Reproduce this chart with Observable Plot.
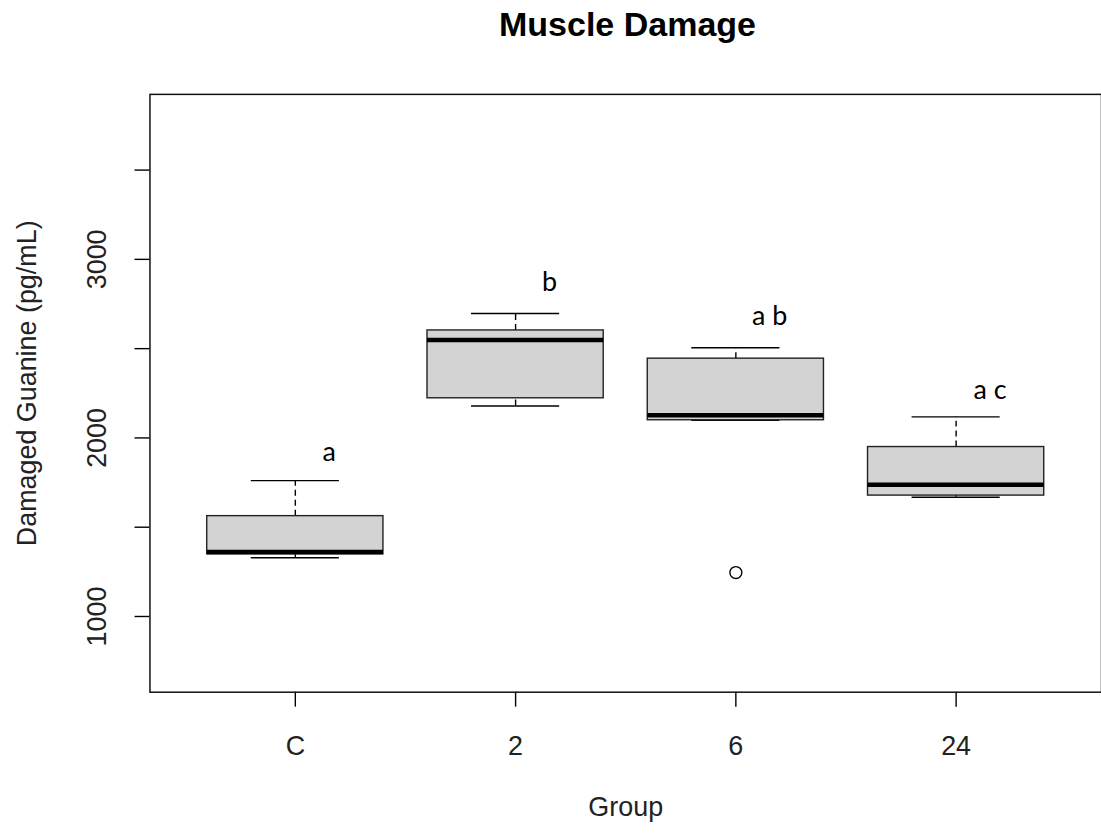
<!DOCTYPE html>
<html>
<head>
<meta charset="utf-8">
<script src="https://cdn.jsdelivr.net/npm/d3@7"></script>
<script src="https://cdn.jsdelivr.net/npm/@observablehq/plot@0.6"></script>
<style>
  html, body { margin: 0; padding: 0; background: #fff; overflow: hidden; }
  #wrap { position: relative; width: 1101px; height: 839px; }
  #title { position: absolute; left: 150px; width: 955px; top: 7px; text-align: center;
           font: bold 34px "Liberation Sans", Arial, sans-serif; line-height: 34px; color: #000; }
  #chart { position: absolute; left: 0; top: 60px; }
</style>
</head>
<body>
<div id="wrap">
  <div id="title">Muscle Damage</div>
  <div id="chart"></div>
</div>
<script>
// ---- data ----
const groups = ["C", "2", "6", "24"];
const whiskerLow  = [1329, 2179, 2099, 1668];
const q1          = [1348, 2222, 2099, 1677];
const median      = [1361, 2548, 2127, 1738];
const q3          = [1562, 2602, 2444, 1949];
const whiskerHigh = [1761, 2697, 2505, 2118];
const outlierGroups = ["6"];
const outlierValues = [1246];
const letterLabels = ["a", "b", "a b", "a c"];
const letterValues = [1921, 2870, 2680, 2267];
const yTicks = [1000, 1500, 2000, 2500, 3000, 3500];
const yTickLabels = [1000, 2000, 3000];

// ---- tables built from the arrays ----
const boxes = groups.map((g, i) => ({
  group: g, pos: i + 1,
  lo: whiskerLow[i], q1: q1[i], med: median[i], q3: q3[i], hi: whiskerHigh[i]
}));
const outliers = outlierGroups.map((g, i) => ({ pos: groups.indexOf(g) + 1, value: outlierValues[i] }));
const letters = groups.map((g, i) => ({ pos: i + 1, label: letterLabels[i], value: letterValues[i] }));

const boxHalf = 0.4, stapleHalf = 0.2;
const FONT = "'Liberation Sans', Arial, sans-serif";

const chart = Plot.plot({
  width: 1105,
  height: 779,
  marginLeft: 150,
  marginRight: 0,
  marginTop: 34,
  marginBottom: 145,
  style: { fontFamily: FONT, fontSize: "27px", color: "#000", background: "#fff", overflow: "visible" },
  x: { type: "linear", domain: [0.34, 4.66], axis: null },
  y: { domain: [576, 3924], axis: null },
  marks: [
    // whiskers (dashed)
    Plot.ruleX(boxes, { x: "pos", y1: "q3", y2: "hi", stroke: "#000", strokeWidth: 1.4, strokeDasharray: "6,4" }),
    Plot.ruleX(boxes, { x: "pos", y1: "lo", y2: "q1", stroke: "#000", strokeWidth: 1.4, strokeDasharray: "6,4" }),
    // staples
    Plot.ruleY(boxes, { y: "hi", x1: d => d.pos - stapleHalf, x2: d => d.pos + stapleHalf, stroke: "#000", strokeWidth: 1.4 }),
    Plot.ruleY(boxes, { y: "lo", x1: d => d.pos - stapleHalf, x2: d => d.pos + stapleHalf, stroke: "#000", strokeWidth: 1.4 }),
    // boxes
    Plot.rect(boxes, { x1: d => d.pos - boxHalf, x2: d => d.pos + boxHalf, y1: "q1", y2: "q3",
      fill: "#d3d3d3", stroke: "#222", strokeWidth: 1.4 }),
    // medians
    Plot.ruleY(boxes, { y: "med", x1: d => d.pos - boxHalf, x2: d => d.pos + boxHalf, stroke: "#000", strokeWidth: 4.5 }),
    // outliers
    Plot.dot(outliers, { x: "pos", y: "value", r: 6, stroke: "#000", fill: "none", strokeWidth: 1.4 }),
    // significance letters
    Plot.text(letters, { x: "pos", y: "value", text: "label", dx: 34, fontSize: 27,
      fontFamily: "Lato, 'Open Sans', sans-serif", fill: "#000" }),
    // y axis ticks + labels
    Plot.axisY({ ticks: yTicks, tickSize: 15, tickFormat: () => "", label: null, strokeWidth: 1.4 }),
    Plot.text(yTickLabels, { y: d => d, text: d => String(d), frameAnchor: "left", textAnchor: "middle",
      dx: -53, rotate: -90, fontSize: 27, fill: "#222" }),
    // x axis ticks + labels
    Plot.axisX({ ticks: [1, 2, 3, 4], tickFormat: i => groups[i - 1], tickSize: 15, tickPadding: 29,
      fontSize: 27, label: null, strokeWidth: 1.4, fill: "#222" }),
    // axis titles
    Plot.text(["Group"], { frameAnchor: "bottom", dy: 124, fontSize: 27, fill: "#222" }),
    Plot.text(["Damaged Guanine (pg/mL)"], { frameAnchor: "left", textAnchor: "middle", dx: -123, dy: -10,
      rotate: -90, fontSize: 27, fill: "#222" }),
    // plot box
    Plot.frame({ stroke: "#111", strokeWidth: 1.5 })
  ]
});
document.getElementById("chart").appendChild(chart);
</script>
</body>
</html>
